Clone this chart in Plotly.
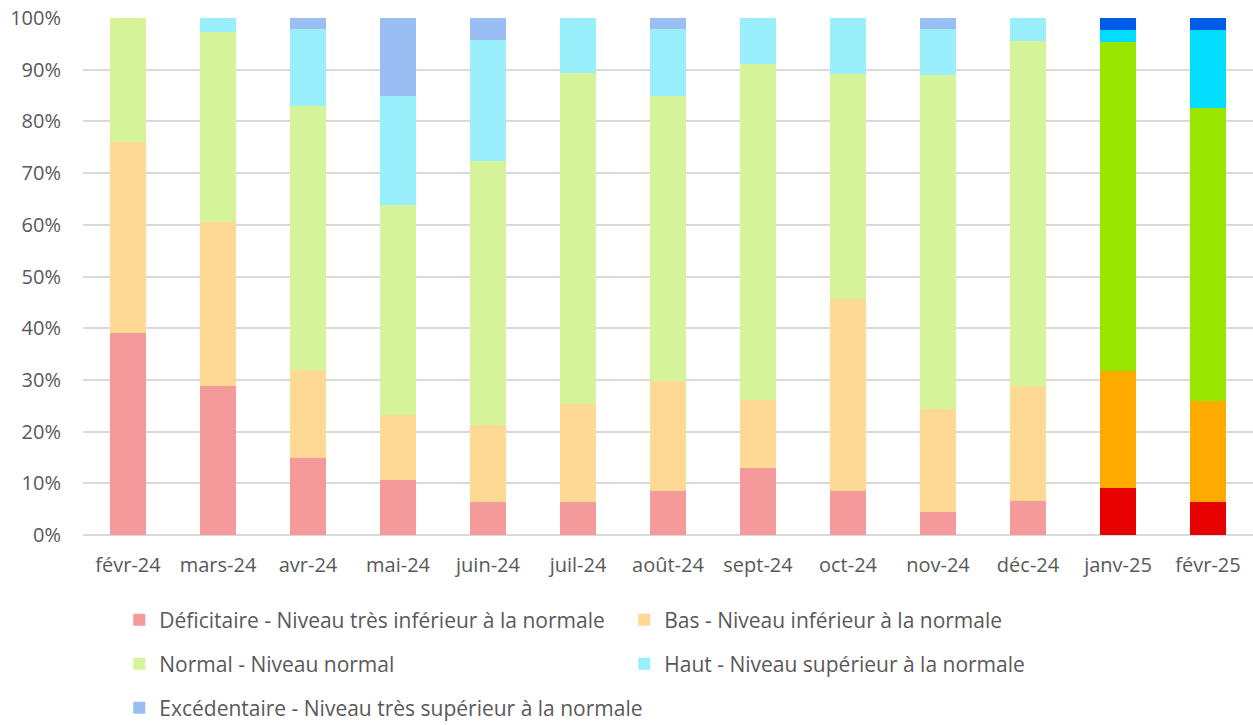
import plotly.graph_objects as go

months = ["févr-24", "mars-24", "avr-24", "mai-24", "juin-24", "juil-24", "août-24",
          "sept-24", "oct-24", "nov-24", "déc-24", "janv-25", "févr-25"]

# Share of stations per level (%)
deficitaire = [39.1, 28.9, 14.8, 10.6, 6.3, 6.3, 8.5, 13.0, 8.6, 4.4, 6.6, 9.1, 6.4]
bas = [36.9, 31.6, 17.1, 12.7, 14.9, 19.1, 21.2, 13.1, 37.0, 19.9, 22.2, 22.6, 19.5]
normal = [24.0, 36.8, 51.0, 40.5, 51.1, 63.9, 55.3, 65.1, 43.5, 64.6, 66.7, 63.7, 56.7]
haut = [0.0, 2.7, 14.9, 21.2, 23.4, 10.7, 12.8, 8.8, 10.9, 8.9, 4.5, 2.3, 15.1]
excedentaire = [0.0, 0.0, 2.2, 15.0, 4.3, 0.0, 2.2, 0.0, 0.0, 2.2, 0.0, 2.3, 2.3]

names = [
    "Déficitaire - Niveau très inférieur à la normale",
    "Bas - Niveau inférieur à la normale",
    "Normal - Niveau normal",
    "Haut - Niveau supérieur à la normale",
    "Excédentaire - Niveau très supérieur à la normale",
]
pale = ["#F49A9A", "#FED994", "#D5F49A", "#9AEFFD", "#9ABDF4"]
vivid = ["#E60000", "#FFAA00", "#98E600", "#00DDFF", "#005CE6"]
series = [deficitaire, bas, normal, haut, excedentaire]
legend_ids = ["legend", "legend", "legend2", "legend2", "legend3"]

FONT = "Open Sans"
GREY = "#595959"

fig = go.Figure()
n_recent = 2  # last months drawn in full colour
for vals, name, pc, vc, lg in zip(series, names, pale, vivid, legend_ids):
    colors = [pc] * (len(months) - n_recent) + [vc] * n_recent
    fig.add_trace(go.Bar(
        x=months, y=[v / 100 for v in vals], name=name,
        marker=dict(color=colors, line=dict(width=0)),
        legend=lg,
    ))

leg_common = dict(orientation="h", xanchor="left", yanchor="middle",
                  font=dict(family=FONT, size=21, color=GREY),
                  entrywidthmode="pixels",
                  bgcolor="rgba(0,0,0,0)", traceorder="normal")

PLOT_H = 725 - 18 - 190

fig.update_layout(
    width=1253, height=725,
    margin=dict(l=83, r=0, t=18, b=190, autoexpand=False),
    barmode="stack", bargap=0.6,
    plot_bgcolor="white", paper_bgcolor="white",
    font=dict(family=FONT, size=20, color=GREY),
    xaxis=dict(showgrid=False, showline=False, ticks="", automargin=False,
               tickfont=dict(family=FONT, size=20, color=GREY),
               ticklabelstandoff=16),
    yaxis=dict(range=[0, 1], tickformat=".0%", dtick=0.1, automargin=False,
               showgrid=True, gridcolor="#D9D9D9", gridwidth=1.5,
               zeroline=True, zerolinecolor="#D9D9D9", zerolinewidth=1.5,
               showline=False, ticks="",
               tickfont=dict(family=FONT, size=20, color=GREY),
               ticklabelstandoff=21),
    legend=dict(x=0.031, y=(725 - 620 - 190) / PLOT_H, entrywidth=460, **leg_common),
    legend2=dict(x=0.031, y=(725 - 664 - 190) / PLOT_H, entrywidth=460, **leg_common),
    legend3=dict(x=0.031, y=(725 - 708 - 190) / PLOT_H, entrywidth=700, **leg_common),
    showlegend=True,
)

fig.write_html("out.html")
